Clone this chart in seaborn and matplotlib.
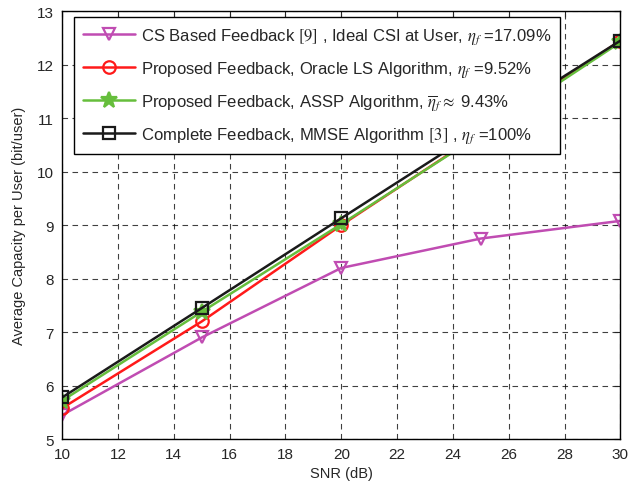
import matplotlib
matplotlib.use("Agg")
import matplotlib.pyplot as plt
import pandas as pd
import seaborn as sns

# data
snr = [10, 15, 20, 25, 30]
cs_feedback = [5.45, 6.90, 8.20, 8.75, 9.08]
oracle_ls = [5.58, 7.20, 9.00, 10.72, 12.45]
assp = [5.72, 7.38, 9.02, 10.70, 12.42]
complete_mmse = [5.78, 7.45, 9.13, 10.80, 12.45]

labels = [
    r"CS Based Feedback $[9]$ , Ideal CSI at User, $\eta_f$ =17.09%",
    r"Proposed Feedback, Oracle LS Algorithm, $\eta_f$ =9.52%",
    r"Proposed Feedback, ASSP Algorithm, $\overline{\eta}_f\approx$ 9.43%",
    r"Complete Feedback, MMSE Algorithm $[3]$ , $\eta_f$ =100%",
]
series = [cs_feedback, oracle_ls, assp, complete_mmse]
colors = ["#C04CB2", "#FF1A1A", "#66BE3C", "#1A1A1A"]
markers = ["v", "o", "*", "s"]

df = pd.concat(
    [pd.DataFrame({"snr": snr, "cap": v, "scheme": lab}) for lab, v in zip(labels, series)],
    ignore_index=True,
)

sns.set_style("white")
plt.rcParams["font.family"] = ["Liberation Sans", "DejaVu Sans"]
plt.rcParams["mathtext.fontset"] = "stix"

fig = plt.figure(figsize=(6.35, 4.89), dpi=100)
ax = fig.add_axes([0.098, 0.10, 0.879, 0.875])

ax.grid(True, color="black", linestyle=(0, (5, 4)), linewidth=0.8, alpha=0.75)
for lab, col, mk in zip(labels, colors, markers):
    sub = df[df["scheme"] == lab]
    sns.lineplot(
        data=sub, x="snr", y="cap", ax=ax, color=col, marker=mk, label=lab,
        linewidth=1.8, markersize=12 if mk == "*" else 9,
        markerfacecolor="none" if mk != "*" else col,
        markeredgecolor=col, markeredgewidth=1.6,
    )

ax.set_xlim(10, 30)
ax.set_ylim(5, 13)
ax.set_xticks(range(10, 31, 2))
ax.set_yticks(range(5, 14))
ax.set_xlabel("SNR (dB)", fontsize=10.5, labelpad=3)
ax.set_ylabel("Average Capacity per User (bit/user)", fontsize=10.5, labelpad=8)
ax.tick_params(direction="in", top=True, right=True, labelsize=11, length=4, width=0.8)
ax.tick_params(axis="x", pad=6)
ax.tick_params(axis="y", pad=6)
for s in ax.spines.values():
    s.set_color("black")
    s.set_linewidth(1.0)

leg = ax.legend(
    loc="upper left", bbox_to_anchor=(0.021, 0.986), borderaxespad=0,
    fontsize=12, frameon=True, fancybox=False, edgecolor="black",
    handlelength=3.1, labelspacing=0.8, borderpad=0.55, handletextpad=0.35,
)
leg.get_frame().set_linewidth(1.0)
leg.get_frame().set_alpha(1.0)

fig.savefig("out.png", dpi=100)
